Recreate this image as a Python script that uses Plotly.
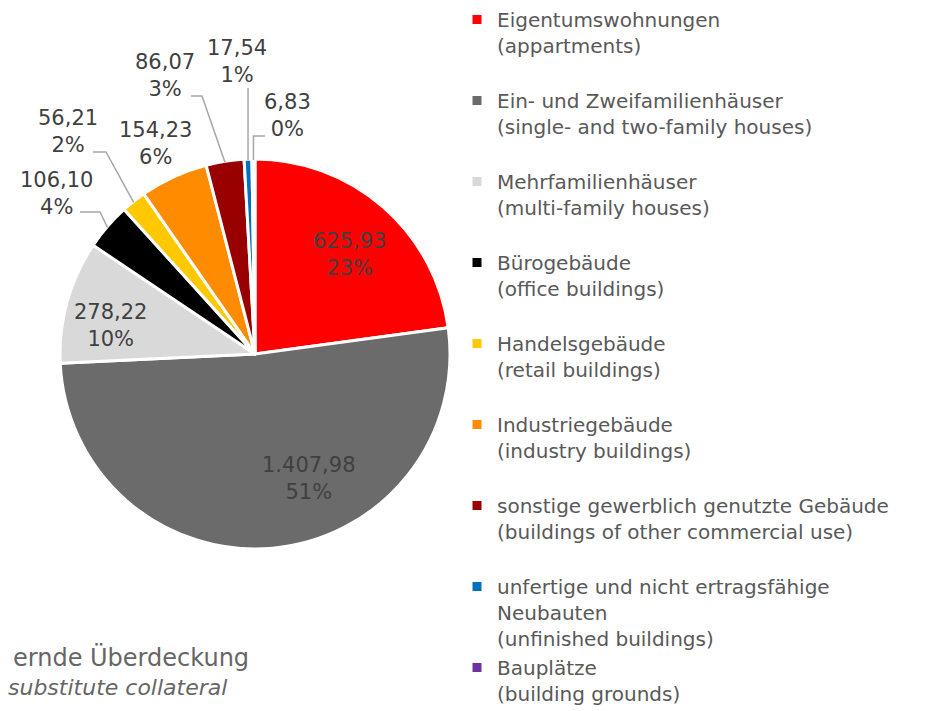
import math
import plotly.graph_objects as go

W, H = 930, 711

categories_de = [
    "Eigentumswohnungen",
    "Ein- und Zweifamilienhäuser",
    "Mehrfamilienhäuser",
    "Bürogebäude",
    "Handelsgebäude",
    "Industriegebäude",
    "sonstige gewerblich genutzte Gebäude",
    "unfertige und nicht ertragsfähige<br>Neubauten",
    "Bauplätze",
]
categories_en = [
    "(appartments)",
    "(single- and two-family houses)",
    "(multi-family houses)",
    "(office buildings)",
    "(retail buildings)",
    "(industry buildings)",
    "(buildings of other commercial use)",
    "(unfinished buildings)",
    "(building grounds)",
]
values = [625.93, 1407.98, 278.22, 106.10, 56.21, 154.23, 86.07, 17.54, 6.83]
colors = ["#FF0000", "#6B6B6B", "#D9D9D9", "#000000", "#FFC800",
          "#FF8C00", "#990000", "#0070C0", "#7030A0"]

footer_de = "ernde Überdeckung"
footer_en = "substitute collateral"

FONT = "DejaVu Sans"
total = sum(values)


def de_num(v):
    s = f"{v:,.2f}"
    return s.replace(",", "X").replace(".", ",").replace("X", ".")


label_texts = [f"{de_num(v)}<br>{round(v / total * 100)}%" for v in values]

# legend names (blank trailing line gives the spacing of the original)
names = []
for i, (de, en) in enumerate(zip(categories_de, categories_en)):
    if i < 7:
        names.append(f"{de}<br>{en}<br> ")
    else:
        names.append(f"{de}<br>{en}")

# pie geometry (pixels)
cx, cy, r = 255, 354, 195
dom_x = [(cx - r) / W, (cx + r) / W]
dom_y = [1 - (cy + r) / H, 1 - (cy - r) / H]

fig = go.Figure(go.Pie(
    labels=names,
    values=values,
    sort=False,
    direction="clockwise",
    rotation=0,
    marker=dict(colors=colors, line=dict(color="white", width=3)),
    textinfo="none",
    hoverinfo="label+value+percent",
    domain=dict(x=dom_x, y=dom_y),
))


def px(x):
    return x / W


def py(y):
    return 1 - y / H


# label positions (pixel centres of the two-line text blocks)
label_pos = [(349, 254), (309, 478), (110, 325), (56, 194), (68, 132),
             (155, 143), (165, 75), (237, 62), (287, 116)]

annotations = []
for t, (x, y) in zip(label_texts, label_pos):
    annotations.append(dict(
        x=px(x), y=py(y), xref="paper", yref="paper", text=t,
        showarrow=False, xanchor="center", yanchor="middle",
        font=dict(family=FONT, size=21, color="#404040"),
        align="center",
    ))

annotations.append(dict(
    x=px(251), y=py(657), xref="paper", yref="paper", text=footer_de,
    showarrow=False, xanchor="right", yanchor="middle",
    font=dict(family=FONT, size=24, color="#666666"),
))
annotations.append(dict(
    x=px(229), y=py(687), xref="paper", yref="paper", text=f"<i>{footer_en}</i>",
    showarrow=False, xanchor="right", yanchor="middle",
    font=dict(family=FONT, size=22, color="#666666"),
))


# leader lines: edge points derived from the slice mid-angles
def edge_point(idx):
    start = sum(values[:idx])
    mid = (start + values[idx] / 2) / total
    ang = mid * 2 * math.pi
    return cx + r * math.sin(ang), cy - r * math.cos(ang)


shapes = []
leader_defs = {
    3: [(80, 212), (100, 212)],
    4: [(93, 152), (106, 152)],
    6: [(191, 96), (202, 96)],
    7: None,
    8: None,
}
for idx, pts in leader_defs.items():
    ex, ey = edge_point(idx)
    if idx == 7:
        pts = [(ex, 88)]
    elif idx == 8:
        pts = [(265, 136), (ex, 136)]
    pts = pts + [(ex, ey + 1)]
    path = "M " + " L ".join(f"{px(x):.5f},{py(y):.5f}" for x, y in pts)
    shapes.append(dict(type="path", path=path, xref="paper", yref="paper",
                       line=dict(color="#A6A6A6", width=1.5)))

fig.update_layout(
    width=W, height=H,
    margin=dict(l=0, r=0, t=0, b=0),
    paper_bgcolor="white",
    plot_bgcolor="white",
    showlegend=True,
    legend=dict(
        x=457 / W, y=1, xanchor="left", yanchor="top",
        valign="top",
        font=dict(family=FONT, size=20, color="#595959"),
        bgcolor="rgba(0,0,0,0)",
    ),
    annotations=annotations,
    shapes=shapes,
)
try:
    fig.update_layout(legend_maxheight=900)
except Exception:
    pass

fig.write_html("out.html", config={"displayModeBar": False},
               post_script="document.body.style.margin='0';")
